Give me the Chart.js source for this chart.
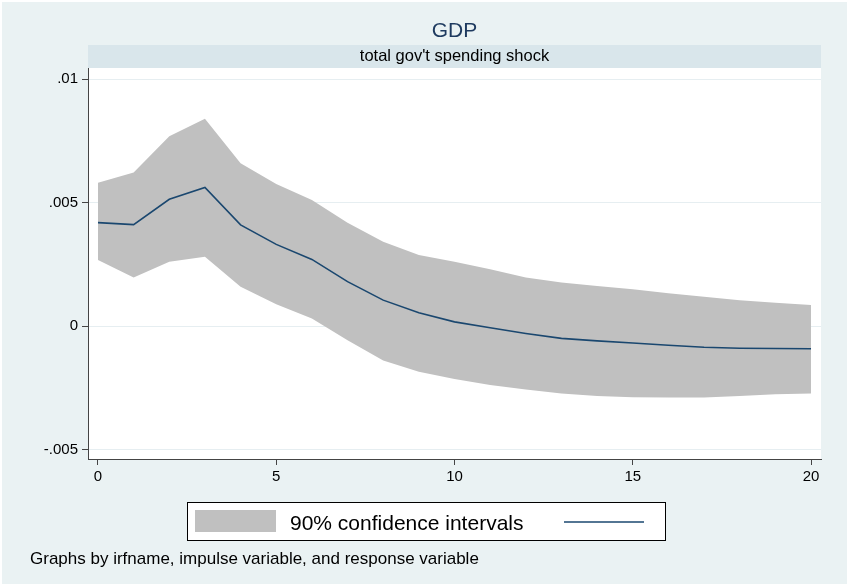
<!DOCTYPE html>
<html>
<head>
<meta charset="utf-8">
<script src="https://cdn.jsdelivr.net/npm/chart.js@4.4.1/dist/chart.umd.min.js"></script>
<style>
  html, body { margin: 0; padding: 0; background: #fff; }
  #wrap { width: 847px; height: 584px; }
</style>
</head>
<body>
<div id="wrap"><canvas id="myChart" width="847" height="584"></canvas></div>
<script>
// horizon steps and impulse response of GDP
var steps = [0, 1, 2, 3, 4, 5, 6, 7, 8, 9, 10, 11, 12, 13, 14, 15, 16, 17, 18, 19, 20];
var irf = [0.00419, 0.00411, 0.00514, 0.00562, 0.00410, 0.00331, 0.00270, 0.00180, 0.00105, 0.00054,
           0.00017, -0.00007, -0.00030, -0.00050, -0.00060, -0.00069, -0.00078, -0.00086, -0.00090, -0.00091, -0.00092];
// 90% confidence band
var upper = [0.00581, 0.00622, 0.00769, 0.00840, 0.00660, 0.00576, 0.00511, 0.00419, 0.00342, 0.00288,
             0.00261, 0.00230, 0.00197, 0.00176, 0.00162, 0.00149, 0.00133, 0.00119, 0.00105, 0.00094, 0.00085];
var lower = [0.00268, 0.00197, 0.00261, 0.00281, 0.00159, 0.00088, 0.00031, -0.00058, -0.00140, -0.00185,
             -0.00215, -0.00239, -0.00257, -0.00273, -0.00284, -0.00289, -0.00290, -0.00290, -0.00284, -0.00277, -0.00273];

var yTicks = [-0.005, 0, 0.005, 0.01];
var yTickLabels = ['-.005', '0', '.005', '.01'];
var xTicks = [0, 5, 10, 15, 20];

var titleText = 'GDP';
var stripText = "total gov't spending shock";
var legendText = '90% confidence intervals';
var noteText = 'Graphs by irfname, impulse variable, and response variable';

var bgColor = '#EAF2F3';
var stripColor = '#D9E6EB';
var bandColor = '#C0C0C0';
var lineColor = '#1A476F';
var fontFamily = '"Liberation Sans", Arial, sans-serif';

function toPoints(values) {
  return steps.map(function(s, i) { return { x: s, y: values[i] }; });
}

// Stata-style frame: background, title strip, legend box and note
var stataFrame = {
  id: 'stataFrame',
  beforeDraw: function(chart) {
    var c = chart.ctx;
    var area = chart.chartArea;
    c.save();
    c.fillStyle = bgColor;
    c.fillRect(2, 2, chart.width - 2, chart.height - 2);
    c.fillStyle = '#fff';
    c.fillRect(area.left, area.top, area.right - area.left, area.bottom - area.top);
    // by-graph strip
    c.fillStyle = stripColor;
    c.fillRect(area.left, 45, area.right - area.left, area.top - 45);
    c.textAlign = 'center';
    c.textBaseline = 'middle';
    c.fillStyle = '#000';
    c.font = '16.5px ' + fontFamily;
    c.fillText(stripText, (area.left + area.right) / 2, 56.5);
    c.fillStyle = '#1E3A5F';
    c.font = '21px ' + fontFamily;
    c.fillText(titleText, (area.left + area.right) / 2, 31);
    c.restore();
  },
  afterDraw: function(chart) {
    var c = chart.ctx;
    c.save();
    // legend
    c.fillStyle = '#fff';
    c.fillRect(187, 502, 479, 39);
    c.strokeStyle = '#000';
    c.lineWidth = 1;
    c.strokeRect(187.5, 502.5, 478, 38);
    c.fillStyle = bandColor;
    c.fillRect(195, 510, 81, 22);
    c.fillStyle = '#000';
    c.font = '21px ' + fontFamily;
    c.textAlign = 'left';
    c.textBaseline = 'alphabetic';
    c.fillText(legendText, 290, 529.5);
    c.strokeStyle = lineColor;
    c.lineWidth = 1.6;
    c.beginPath();
    c.moveTo(564, 522);
    c.lineTo(644, 522);
    c.stroke();
    // note
    c.fillStyle = '#000';
    c.font = '17px ' + fontFamily;
    c.fillText(noteText, 30, 563.5);
    c.restore();
  }
};

var ctx = document.getElementById('myChart').getContext('2d');

new Chart(ctx, {
  type: 'line',
  data: {
    datasets: [
      {
        label: 'lower',
        data: toPoints(lower),
        borderWidth: 0,
        pointRadius: 0,
        backgroundColor: bandColor,
        fill: false,
        order: 2
      },
      {
        label: legendText,
        data: toPoints(upper),
        borderWidth: 0,
        pointRadius: 0,
        backgroundColor: bandColor,
        fill: '-1',
        order: 1
      },
      {
        label: 'irf',
        data: toPoints(irf),
        borderColor: lineColor,
        borderWidth: 1.6,
        pointRadius: 0,
        fill: false,
        order: 0
      }
    ]
  },
  options: {
    responsive: false,
    animation: false,
    layout: { padding: { left: 0, top: 68, right: 26, bottom: 95 } },
    plugins: {
      legend: { display: false },
      tooltip: { enabled: false },
      title: { display: false }
    },
    elements: { line: { tension: 0 } },
    scales: {
      x: {
        type: 'linear',
        min: -0.28,
        max: 20.28,
        afterBuildTicks: function(scale) {
          scale.ticks = xTicks.map(function(v) { return { value: v }; });
        },
        afterFit: function(scale) { scale.height = 30; },
        grid: {
          drawOnChartArea: false,
          drawTicks: true,
          tickLength: 6,
          tickColor: '#444'
        },
        border: { display: true, color: '#444', width: 1 },
        ticks: {
          padding: 3,
          maxRotation: 0,
          color: '#000',
          font: { family: fontFamily, size: 15 },
          callback: function(v) { return String(v); }
        }
      },
      y: {
        type: 'linear',
        min: -0.00539,
        max: 0.01046,
        afterBuildTicks: function(scale) {
          scale.ticks = yTicks.map(function(v) { return { value: v }; });
        },
        afterFit: function(scale) { scale.width = 88; },
        grid: {
          color: '#E6EEF1',
          lineWidth: 1,
          drawTicks: true,
          tickLength: 6,
          tickColor: '#444'
        },
        border: { display: true, color: '#444', width: 1 },
        ticks: {
          padding: 4,
          color: '#000',
          font: { family: fontFamily, size: 15 },
          callback: function(v) {
            var i = yTicks.indexOf(v);
            return i >= 0 ? yTickLabels[i] : '';
          }
        }
      }
    }
  },
  plugins: [stataFrame]
});
</script>
</body>
</html>
